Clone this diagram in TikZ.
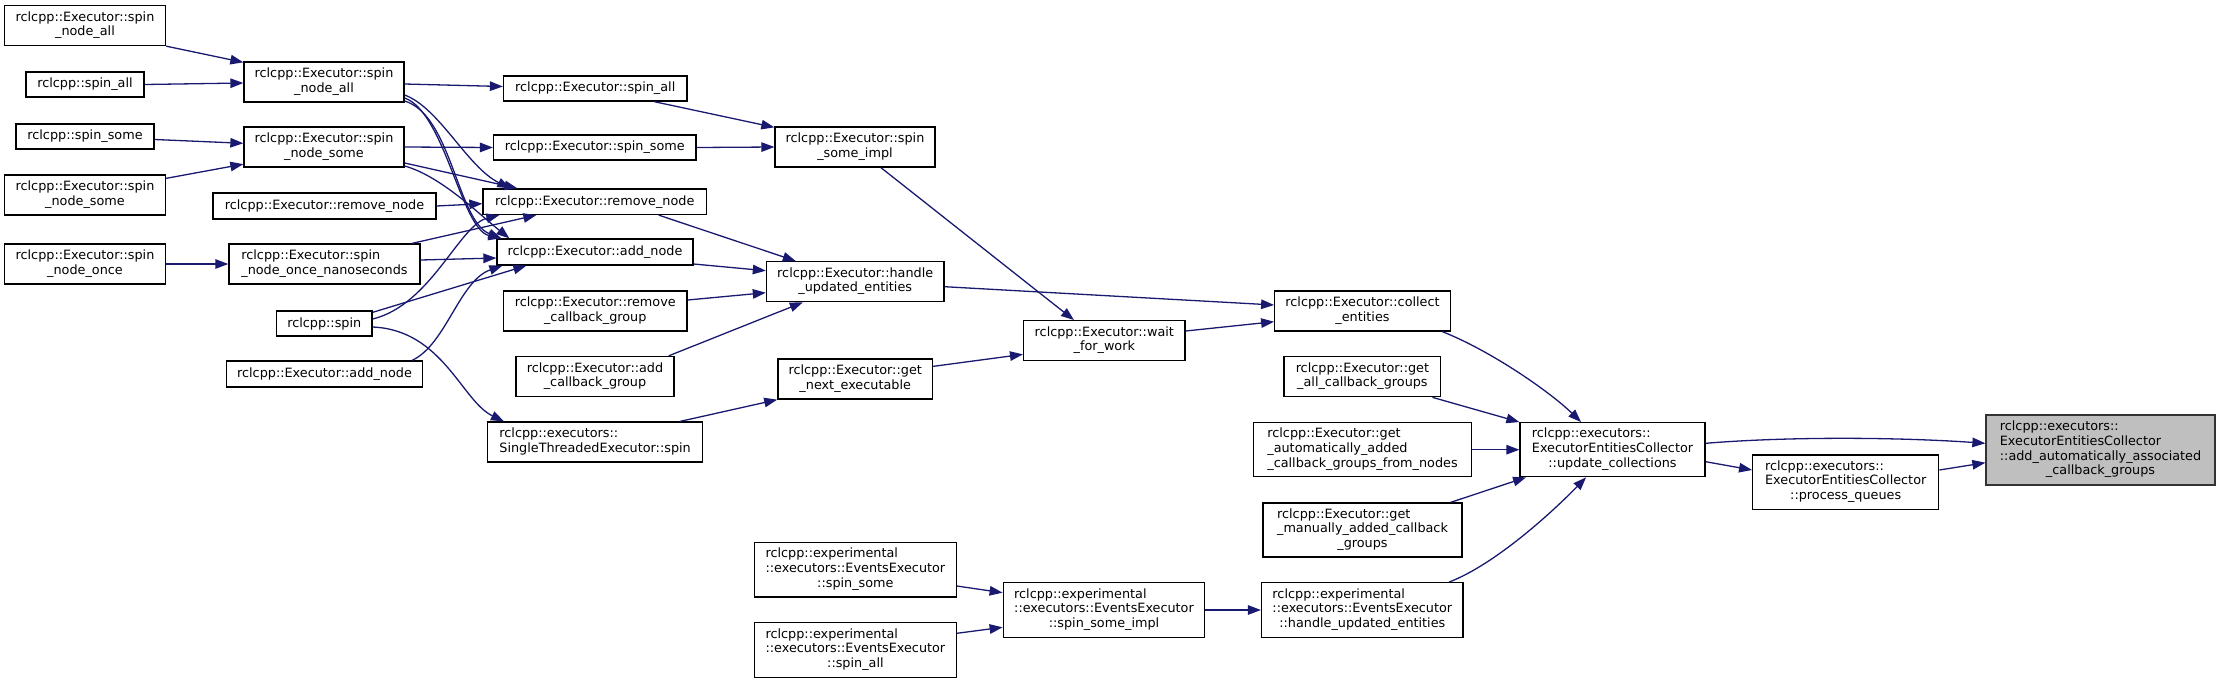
\documentclass[tikz,border=0pt]{standalone}
\usepackage{fontspec}
\setmainfont{DejaVu Sans}
\usetikzlibrary{arrows.meta,calc}
\definecolor{midnight}{HTML}{191970}
\definecolor{hlgray}{HTML}{BFBFBF}
\newcommand\ML[2]{\begin{tabular}{@{}l@{}}#1\\\multicolumn{1}{@{}c@{}}{#2}\end{tabular}}
\begin{document}
\begin{tikzpicture}[x=1pt,y=-1pt,
  fbox/.style={draw=black,line width=1.3pt,fill=white,inner sep=0pt,
    font=\fontsize{12.8}{14.7}\selectfont},
  conn/.style={draw=midnight,line width=1.3pt,-{Triangle[length=13pt,width=9.5pt]}}]
\useasboundingbox (0,0) rectangle (2220,683);
% column 1
\node[fbox,minimum width=161pt,minimum height=40pt] (a) at (85,25.5) {\ML{rclcpp::Executor::spin}{\_node\_all}};
\node[fbox,minimum width=118pt,minimum height=25pt] (b) at (85,84.5) {rclcpp::spin\_all};
\node[fbox,minimum width=138pt,minimum height=25pt] (d) at (85,136.5) {rclcpp::spin\_some};
\node[fbox,minimum width=161pt,minimum height=40pt] (f) at (85,195) {\ML{rclcpp::Executor::spin}{\_node\_some}};
\node[fbox,minimum width=161pt,minimum height=40pt] (h) at (85,264) {\ML{rclcpp::Executor::spin}{\_node\_once}};
% column 2
\node[fbox,minimum width=160pt,minimum height=40pt] (c) at (324,82) {\ML{rclcpp::Executor::spin}{\_node\_all}};
\node[fbox,minimum width=160pt,minimum height=40pt] (e) at (324,147) {\ML{rclcpp::Executor::spin}{\_node\_some}};
\node[fbox,minimum width=223pt,minimum height=26pt] (g) at (324.5,206) {rclcpp::Executor::remove\_node};
\node[fbox,minimum width=191pt,minimum height=40pt] (i) at (324.5,264) {\ML{rclcpp::Executor::spin}{\_node\_once\_nanoseconds}};
\node[fbox,minimum width=95.5pt,minimum height=25pt] (j) at (324.25,323.5) {rclcpp::spin};
\node[fbox,minimum width=196pt,minimum height=26pt] (p) at (324.5,374) {rclcpp::Executor::add\_node};
% column 3
\node[fbox,minimum width=183.5pt,minimum height=25pt] (k) at (595.25,88.5) {rclcpp::Executor::spin\_all};
\node[fbox,minimum width=202.5pt,minimum height=25pt] (l) at (594.8,147.5) {rclcpp::Executor::spin\_some};
\node[fbox,minimum width=223.5pt,minimum height=25.5pt] (m) at (594.75,201.7) {rclcpp::Executor::remove\_node};
\node[fbox,minimum width=196pt,minimum height=26pt] (n) at (595,252) {rclcpp::Executor::add\_node};
\node[fbox,minimum width=183.5pt,minimum height=40pt] (o) at (595.25,311) {\ML{rclcpp::Executor::remove}{\_callback\_group}};
\node[fbox,minimum width=158pt,minimum height=40pt] (q) at (595,376.5) {\ML{rclcpp::Executor::add}{\_callback\_group}};
\node[fbox,minimum width=215pt,minimum height=40pt] (r) at (595.1,442) {\ML{rclcpp::executors::}{SingleThreadedExecutor::spin}};
% column 4
\node[fbox,minimum width=160pt,minimum height=40pt] (s) at (855,147) {\ML{rclcpp::Executor::spin}{\_some\_impl}};
\node[fbox,minimum width=177.5pt,minimum height=40pt] (t) at (855.2,281.7) {\ML{rclcpp::Executor::handle}{\_updated\_entities}};
\node[fbox,minimum width=154.7pt,minimum height=40pt] (w) at (855.2,379) {\ML{rclcpp::Executor::get}{\_next\_executable}};
\node[fbox,minimum width=201.5pt,minimum height=54.5pt] (e1) at (855.4,569.7) {\ML{rclcpp::experimental\\::executors::EventsExecutor}{::spin\_some}};
\node[fbox,minimum width=201.5pt,minimum height=54.5pt] (e2) at (855.4,650) {\ML{rclcpp::experimental\\::executors::EventsExecutor}{::spin\_all}};
% column 5
\node[fbox,minimum width=161.4pt,minimum height=40pt] (v) at (1104.3,340.7) {\ML{rclcpp::Executor::wait}{\_for\_work}};
\node[fbox,minimum width=201.5pt,minimum height=54.5pt] (e3) at (1104,610) {\ML{rclcpp::experimental\\::executors::EventsExecutor}{::spin\_some\_impl}};
% column 6
\node[fbox,minimum width=175.5pt,minimum height=40pt] (u) at (1362.5,311) {\ML{rclcpp::Executor::collect}{\_entities}};
\node[fbox,minimum width=156.8pt,minimum height=40pt] (x) at (1362.4,376.7) {\ML{rclcpp::Executor::get}{\_all\_callback\_groups}};
\node[fbox,minimum width=218pt,minimum height=54pt] (y) at (1362.5,449.7) {\ML{rclcpp::Executor::get\\\_automatically\_added}{\_callback\_groups\_from\_nodes}};
\node[fbox,minimum width=199pt,minimum height=54pt] (z) at (1362.5,530) {\ML{rclcpp::Executor::get\\\_manually\_added\_callback}{\_groups}};
\node[fbox,minimum width=201.5pt,minimum height=54.5pt] (e4) at (1362.3,610) {\ML{rclcpp::experimental\\::executors::EventsExecutor}{::handle\_updated\_entities}};
% right part
\node[fbox,minimum width=185pt,minimum height=54pt] (uc) at (1612.5,449.7) {\ML{rclcpp::executors::\\ExecutorEntitiesCollector}{::update\_collections}};
\node[fbox,minimum width=186pt,minimum height=54.3pt] (pq) at (1845.7,482) {\ML{rclcpp::executors::\\ExecutorEntitiesCollector}{::process\_queues}};
\node[fbox,fill=hlgray,draw=black!80,minimum width=229pt,minimum height=70pt] (gr) at (2100.5,450) {\ML{rclcpp::executors::\\ExecutorEntitiesCollector\\::add\_automatically\_associated}{\_callback\_groups}};
% connectors
\draw[conn] (a.south east) -- ($(c.north west)+(0,1)$);
\draw[conn] (b.east) -- ($(c.west)+(0,1)$);
\draw[conn] ($(d.east)+(0,3)$) -- ($(e.west)+(0,-3.7)$);
\draw[conn] ($(f.north east)+(0,4)$) -- ($(e.south west)+(0,-3.5)$);
\draw[conn] (h.east) -- (i.west);
\draw[conn] ($(c.east)+(0,2)$) -- ($(k.west)+(0,-2)$);
\draw[conn] ($(c.east)+(0,13)$) .. controls +(35,13) and +(-43,-21) .. ($(m.north west)+(28,0)$);
\draw[conn] ($(c.east)+(0,16)$) .. controls +(40,14) and +(-40,-9) .. ($(n.north west)+(5,0)$);
\draw[conn] ($(c.east)+(0,19)$) .. controls +(47,14) and +(-44,-17) .. ($(n.north west)+(5,0)$);
\draw[conn] ($(e.east)+(0,16)$) -- ($(m.north west)+(35,0)$);
\draw[conn] ($(e.east)+(0,19)$) .. controls +(36,10) and +(-30,-24) .. ($(n.north west)+(13,0)$);
\draw[conn] (e.east) -- (l.west);
\draw[conn] (g.east) -- ($(m.west)+(0,2)$);
\draw[conn] ($(i.north east)+(-8.5,0)$) -- ($(m.south west)+(54,0)$);
\draw[conn] ($(i.east)+(0,-4)$) -- ($(n.west)+(0,6)$);
\draw[conn] ($(j.east)+(0,-4.5)$) .. controls +(58,-14) and +(-40,10) .. ($(m.south west)+(17,0)$);
\draw[conn] ($(j.north east)+(0,2)$) -- ($(n.south west)+(30,0)$);
\draw[conn] ($(j.east)+(0,3.5)$) .. controls +(70,3) and +(-42,-20) .. ($(r.north west)+(17,0)$);
\draw[conn] ($(p.north east)+(-11,0)$) .. controls +(34,-16) and +(-43,15) .. ($(n.south west)+(6,0)$);
\draw[conn] ($(k.south east)+(-33.5,0)$) -- ($(s.north west)+(0,1)$);
\draw[conn] (l.east) -- (s.west);
\draw[conn] ($(m.south east)+(-48.5,0)$) -- ($(t.north west)+(30,0)$);
\draw[conn] ($(n.east)+(0,12)$) -- ($(t.west)+(0,-11)$);
\draw[conn] ($(o.east)+(0,-11)$) -- ($(t.west)+(0,11)$);
\draw[conn] ($(q.north east)+(-6,0)$) -- ($(t.south west)+(37,0)$);
\draw[conn] ($(r.north east)+(-23,0)$) -- (w.south west);
\draw[conn] ($(s.south west)+(106.6,0)$) -- ($(v.north west)+(51,0)$);
\draw[conn] ($(t.east)+(0,5)$) -- ($(u.west)+(0,-6)$);
\draw[conn] ($(w.north east)+(0,8)$) -- ($(v.south west)+(0,-7)$);
\draw[conn] ($(v.east)+(0,-9.7)$) -- ($(u.west)+(0,10.7)$);
\draw[conn] ($(u.south east)+(-8.5,0)$) .. controls +(48,19) and +(-32,-31) .. ($(uc.north west)+(61.7,0)$);
\draw[conn] ($(x.south east)+(-9,0)$) -- (uc.north west);
\draw[conn] (y.east) -- (uc.west);
\draw[conn] ($(z.north east)+(-12,0)$) -- ($(uc.south west)+(6.7,0)$);
\draw[conn] ($(e4.north east)+(-14.7,0)$) .. controls +(47,-18) and +(-32,33) .. ($(uc.south west)+(66.7,0)$);
\draw[conn] ($(e1.east)+(0,16.3)$) -- ($(e3.west)+(0,-17.3)$);
\draw[conn] ($(e2.east)+(0,-16.7)$) -- ($(e3.west)+(0,17.3)$);
\draw[conn] (e3.east) -- (e4.west);
\draw[conn] ($(uc.east)+(0,-6.4)$) .. controls +(85,-7) and +(-86,-6) .. ($(gr.west)+(0,-6.7)$);
\draw[conn] ($(uc.east)+(0,12)$) -- ($(pq.west)+(0,-12)$);
\draw[conn] ($(pq.east)+(0,-12)$) -- ($(gr.west)+(0,12.7)$);
\end{tikzpicture}
\end{document}
